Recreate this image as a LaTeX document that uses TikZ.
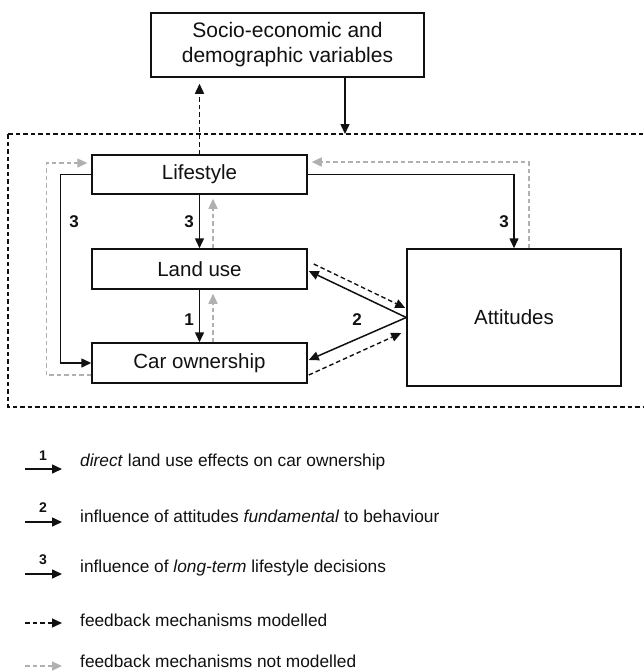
\documentclass[tikz,border=0pt]{standalone}
\usepackage{fontspec}
\setmainfont{Liberation Sans}
\usetikzlibrary{arrows.meta}
\definecolor{txt}{HTML}{111111}
\definecolor{fbgray}{HTML}{B0B0B0}
\tikzset{
  box/.style={draw=txt, line width=1.5pt, rectangle, inner sep=0pt, text=txt,
    font=\fontsize{20.5}{24}\selectfont},
  tip/.style={-{Triangle[length=10pt,width=9pt]}},
  arr/.style={tip, draw=txt, line width=1.5pt},
  fbarr/.style={tip, draw=txt, line width=1.4pt, dash pattern=on 4.5pt off 3pt},
  grarr/.style={tip, draw=fbgray, line width=1.4pt, dash pattern=on 4.5pt off 3pt},
  frame/.style={draw=txt, line width=1.4pt, dash pattern=on 4.5pt off 3pt},
  num/.style={text=txt, font=\fontsize{17}{17}\selectfont\bfseries, inner sep=0pt},
  lnum/.style={text=txt, font=\fontsize{14}{14}\selectfont\bfseries, inner sep=0pt},
  ltext/.style={text=txt, font=\fontsize{17.3}{20}\selectfont, anchor=west, inner sep=0pt}
}
\begin{document}
\begin{tikzpicture}[x=1pt,y=-1pt]
\useasboundingbox (0,0) rectangle (644,672);
\fill[white] (0,0) rectangle (644,672);
% outer dashed frame
\draw[frame] (8,134) rectangle (660,407);
% nodes
\node[box, minimum width=273pt, minimum height=64pt, align=center,
      font=\fontsize{21}{25}\selectfont] (socio) at (287.5,45)
      {Socio-economic and\\demographic variables};
\node[box, minimum width=215pt, minimum height=39pt] (life) at (199.5,174.5) {Lifestyle};
\node[box, minimum width=215pt, minimum height=40pt] (land) at (199.5,269) {Land use};
\node[box, minimum width=215pt, minimum height=40pt] (car) at (199.5,363) {Car ownership};
\node[box, minimum width=214pt, minimum height=137pt] (att) at (514,317.5) {Attitudes};
\coordinate (ftop) at (345,134);
% socio links
\draw[fbarr, shorten >=6pt] (life.north) -- (life.north |- socio.south);
\draw[arr] (socio.south -| ftop) -- (ftop);
% lifestyle effects (3)
\draw[arr] (life) -- (land);
\draw[arr] (land) -- (car);
\draw[arr] (life.west) -- ++(-31,0) |- (car.west);
\draw[arr] (life.east) -| (att.north);
% gray feedback
\draw[grarr] ([xshift=13.5pt]car.north) -- ([xshift=13.5pt,yshift=-4pt]land.south);
\draw[grarr] ([xshift=13.5pt]land.north) -- ([xshift=13.5pt,yshift=-4pt]life.south);
\draw[grarr] ([yshift=-12pt]car.west) -- ++(-45,0) |- ([yshift=11.5pt,xshift=-4pt]life.west);
\draw[grarr] ([xshift=15pt]att.north) |- ([yshift=12.5pt,xshift=4pt]life.east);
% attitudes (2)
\draw[arr] (att.west) -- ([yshift=-2pt,xshift=1pt]land.east);
\draw[arr] (att.west) -- ([yshift=3pt,xshift=1pt]car.east);
\draw[fbarr] ([xshift=6pt,yshift=5pt]land.east) -- ([xshift=-1pt,yshift=9.5pt]att.west);
\draw[fbarr] ([xshift=1pt,yshift=-12pt]car.east) -- ([xshift=-5pt,yshift=-15.5pt]att.west);
% labels
\node[num] (n3a) at (74,222) {3};
\node[num] (n3b) at (189,222) {3};
\node[num] (n3c) at (504,222) {3};
\node[num] (n1) at (189,320) {1};
\node[num] (n2) at (357,320) {2};
% legend
\coordinate (la1) at (25,469); \coordinate (lb1) at (62,469);
\coordinate (la2) at (25,522); \coordinate (lb2) at (62,522);
\coordinate (la3) at (25,574); \coordinate (lb3) at (62,574);
\coordinate (la4) at (25,623); \coordinate (lb4) at (62,623);
\coordinate (la5) at (25,666); \coordinate (lb5) at (62,666);
\draw[arr] (la1) -- (lb1);
\draw[arr] (la2) -- (lb2);
\draw[arr] (la3) -- (lb3);
\draw[fbarr] (la4) -- (lb4);
\draw[grarr] (la5) -- (lb5);
\node[lnum] (ln1) at (43,456) {1};
\node[lnum] (ln2) at (43,508) {2};
\node[lnum] (ln3) at (43,560) {3};
\node[ltext] (t1) at (80,462) {\textit{direct} land use effects on car ownership};
\node[ltext] (t2) at (80,516) {influence of attitudes \textit{fundamental} to behaviour};
\node[ltext] (t3) at (80,568) {influence of \textit{long-term} lifestyle decisions};
\node[ltext] (t4) at (80,620) {feedback mechanisms modelled};
\node[ltext] (t5) at (80,661) {feedback mechanisms not modelled};
\end{tikzpicture}
\end{document}
